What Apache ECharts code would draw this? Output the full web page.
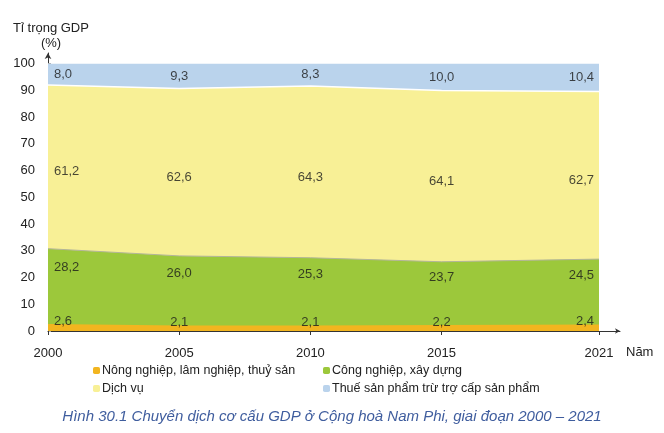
<!DOCTYPE html>
<html>
<head>
<meta charset="utf-8">
<script src="https://cdn.jsdelivr.net/npm/echarts@6/dist/echarts.min.js"></script>
<style>
  html, body { margin: 0; padding: 0; background: #fff; }
  #chart { width: 664px; height: 433px; }
</style>
</head>
<body>
<div id="chart"></div>
<script>
// năm
var years = [2000, 2005, 2010, 2015, 2021];
var yTicks = [0, 10, 20, 30, 40, 50, 60, 70, 80, 90, 100];
var names = ['Nông nghiệp, lâm nghiệp, thuỷ sản', 'Công nghiệp, xây dựng', 'Dịch vụ', 'Thuế sản phẩm trừ trợ cấp sản phẩm'];
// tỉ trọng (%)
var nongNghiep = [2.6, 2.1, 2.1, 2.2, 2.4];
var congNghiep = [28.2, 26.0, 25.3, 23.7, 24.5];
var dichVu = [61.2, 62.6, 64.3, 64.1, 62.7];
var thue = [8.0, 9.3, 8.3, 10.0, 10.4];
var colors = ['#f2b51f', '#9cc83b', '#f8f096', '#bad3ec'];

var dom = document.getElementById('chart');
var myChart = echarts.init(dom);

// cộng dồn bằng tay (stack trên trục value-value bị cộng theo x)
var lists = [nongNghiep, congNghiep, dichVu, thue];
var tops = [];
var acc = years.map(function () { return 0; });
for (var k = 0; k < lists.length; k++) {
    acc = acc.map(function (a, i) { return a + lists[k][i]; });
    tops.push(acc.slice());
}
var bases = [years.map(function () { return 0; }), tops[0], tops[1], tops[2]];

var pairs = function (arr) {
    return arr.map(function (v, i) { return [years[i], v]; });
};

// vị trí nhãn: tính từ số liệu, đặt trong từng dải
var labelData = function (k, frac, dy) {
    return lists[k].map(function (v, i) {
        var item = { value: [years[i], bases[k][i] + v * frac], raw: v, label: { offset: [0, dy || 0] } };
        if (i === 0) { item.label.align = 'left'; item.label.offset = [6, dy || 0]; }
        if (i === years.length - 1) { item.label.align = 'right'; item.label.offset = [-5, dy || 0]; }
        return item;
    });
};

var areaSeries = function (k, line) {
    return {
        name: names[k],
        type: 'line',
        data: pairs(tops[k]),
        symbol: 'none',
        silent: true,
        itemStyle: { color: colors[k] },
        lineStyle: line || { width: 0 },
        areaStyle: { color: colors[k], opacity: 1, origin: 'start' },
        z: 5 - k
    };
};

var font = 'Liberation Sans, Arial, sans-serif';

var labelSeries = function (data) {
    return {
        type: 'scatter',
        data: data,
        symbolSize: 0,
        itemStyle: { color: 'transparent' },
        silent: true,
        z: 10,
        label: {
            show: true,
            position: 'inside',
            color: '#1a1a1a',
            fontSize: 13,
            fontFamily: font,
            formatter: function (p) { return p.data.raw.toFixed(1).replace('.', ','); }
        }
    };
};

var legendOpt = function (list, left) {
    return {
        data: list,
        orient: 'vertical',
        left: left,
        top: 359,
        itemWidth: 7,
        itemHeight: 7,
        itemGap: 5,
        icon: 'roundRect',
        selectedMode: false,
        textStyle: { fontSize: 12.5, color: '#222', fontFamily: font, padding: [0, 0, 0, -3] }
    };
};

option = {
    animation: false,
    backgroundColor: '#fff',
    title: {
        text: 'Hình 30.1 Chuyển dịch cơ cấu GDP ở Cộng hoà Nam Phi, giai đoạn 2000 – 2021',
        left: 'center',
        top: 404,
        textStyle: { color: '#3f5d9e', fontSize: 15, fontStyle: 'italic', fontWeight: 'normal', fontFamily: font }
    },
    legend: [legendOpt([names[0], names[2]], 88), legendOpt([names[1], names[3]], 318)],
    grid: { left: 48, right: 44, top: 53, bottom: 102 },
    xAxis: {
        type: 'value',
        min: 2000,
        max: 2021.8,
        name: 'Năm',
        nameLocation: 'end',
        nameGap: 6,
        nameTextStyle: { color: '#222', fontSize: 13, fontFamily: font, align: 'left', verticalAlign: 'top', padding: [15, 0, 0, 0] },
        splitLine: { show: false },
        axisLine: { lineStyle: { color: '#333', width: 1 }, symbol: ['none', 'arrow'], symbolSize: [4, 5] },
        axisTick: { customValues: years, length: 4, lineStyle: { color: '#333' } },
        axisLabel: {
            customValues: years, color: '#222', fontSize: 13, fontFamily: font, margin: 16,
            formatter: function (v) { return String(v); }
        }
    },
    yAxis: {
        type: 'value',
        min: 0,
        max: 104,
        name: 'Tỉ trọng GDP\n(%)',
        nameLocation: 'end',
        nameGap: 2,
        nameTextStyle: { color: '#222', fontSize: 13, fontFamily: font, align: 'center', lineHeight: 15, padding: [0, 0, 0, 6] },
        splitLine: { show: false },
        axisLine: { show: true, lineStyle: { color: '#333', width: 1 }, symbol: ['none', 'arrow'], symbolSize: [5, 6] },
        axisTick: { show: true, customValues: yTicks, inside: true, length: 3, lineStyle: { color: '#aaa' } },
        axisLabel: { customValues: yTicks, color: '#222', fontSize: 13, fontFamily: font, margin: 13 }
    },
    series: [
        areaSeries(0),
        areaSeries(1, { width: 1, color: '#b3b59a' }),
        areaSeries(2, { width: 1.5, color: '#ffffff' }),
        areaSeries(3),
        labelSeries(labelData(0, 1, -3)),
        labelSeries(labelData(1, 0.75)),
        labelSeries(labelData(2, 0.47)),
        labelSeries(labelData(3, 0.5))
    ]
};

if (option && typeof option === 'object') {
    myChart.setOption(option, true);
}
</script>
</body>
</html>
